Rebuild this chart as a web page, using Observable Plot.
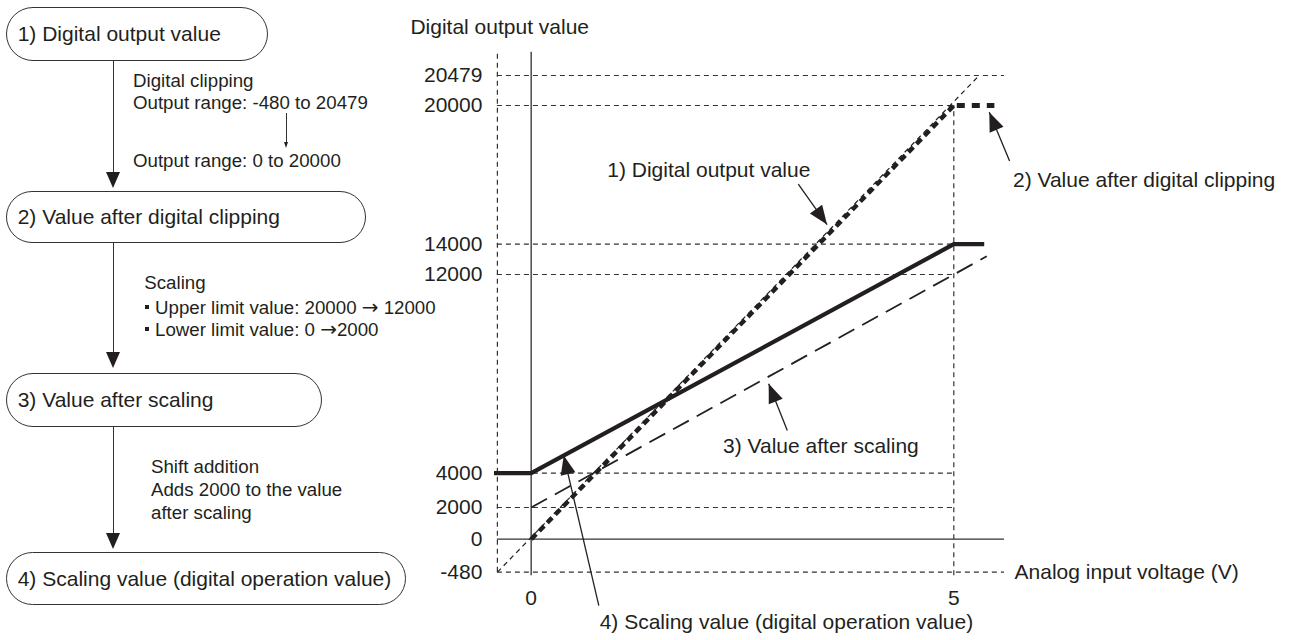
<!DOCTYPE html>
<html><head><meta charset="utf-8">
<script src="https://cdn.jsdelivr.net/npm/d3@7"></script>
<script src="https://cdn.jsdelivr.net/npm/@observablehq/plot@0.6"></script>
<style>
body{margin:0;background:#fff;font-family:"Liberation Sans",Arial,sans-serif;color:#231f20}
#wrap{position:relative;width:1292px;height:640px;overflow:hidden;background:#fff}
#chart{position:absolute;left:0;top:0}
.box{position:absolute;left:6px;border:1.3px solid #333;border-radius:28px;box-sizing:border-box;font-size:21px;line-height:1;display:flex;align-items:center;padding-left:10.7px;white-space:nowrap}
.vline{position:absolute;left:112.5px;width:1.5px;background:#333}
.head{position:absolute;left:105.6px;width:0;height:0;border-left:7.7px solid transparent;border-right:7.7px solid transparent;border-top:16.7px solid #231f20}
.note{position:absolute;font-size:18.7px;line-height:1;transform:translateY(-50%);white-space:nowrap}
.bullet{position:absolute;left:145px;width:4px;height:4px;background:#231f20}
.arr{font-family:"DejaVu Sans",sans-serif;font-size:20px;line-height:1}
</style></head>
<body>
<div id="wrap">
  <div id="chart"></div>
  <!-- flowchart -->
  <div class="box" style="top:7.3px;width:262px;height:53.4px">1) Digital output value</div>
  <div class="vline" style="top:60px;height:116px"></div>
  <div class="head" style="top:171.6px"></div>
  <div class="note" style="left:133px;top:81px">Digital clipping</div>
  <div class="note" style="left:133px;top:103.3px">Output range: -480 to 20479</div>
  <div style="position:absolute;left:286.2px;top:113px;width:1px;height:31px;background:#333"></div>
  <div style="position:absolute;left:284.2px;top:142px;width:0;height:0;border-left:2.5px solid transparent;border-right:2.5px solid transparent;border-top:6px solid #231f20"></div>
  <div class="note" style="left:133px;top:161px">Output range: 0 to 20000</div>

  <div class="box" style="top:190.7px;width:360px;height:52.6px">2) Value after digital clipping</div>
  <div class="vline" style="top:243px;height:112px"></div>
  <div class="head" style="top:351.6px"></div>
  <div class="note" style="left:144.3px;top:283.3px">Scaling</div>
  <div class="bullet" style="top:305px"></div>
  <div class="note" style="left:155px;top:306.7px">Upper limit value: 20000 <span class="arr">→</span> 12000</div>
  <div class="bullet" style="top:327px"></div>
  <div class="note" style="left:155px;top:329.3px">Lower limit value: 0 <span class="arr">→</span>2000</div>

  <div class="box" style="top:372.7px;width:316px;height:54px">3) Value after scaling</div>
  <div class="vline" style="top:426px;height:110px"></div>
  <div class="head" style="top:533.3px"></div>
  <div class="note" style="left:151px;top:466.7px">Shift addition</div>
  <div class="note" style="left:151px;top:490px">Adds 2000 to the value</div>
  <div class="note" style="left:151px;top:512.7px">after scaling</div>

  <div class="box" style="top:551.7px;width:400px;height:53.3px">4) Scaling value (digital operation value)</div>
</div>
<script>
// ---------------- data ----------------
const yTicks = [20479, 20000, 14000, 12000, 4000, 2000, 0, -480];   // digital output value ticks
const xTicks = [0, 5];                                              // analog input voltage ticks (V)
const gridShort = [20000, 14000, 12000, 4000, 2000];                // dashed guides ending at 5 V
const gridLong = [20479, -480];                                     // dashed guides to the right edge
const xLeft = -0.4, xRight = 5.6, yTop = 20850, yBottom = -530;     // diagram extent

// 1) Digital output value (bold) and its thin extension
const outputV = [0, 5],        outputD = [0, 20000];
const outputExtV = [-0.4, 5.3], outputExtD = [-480, 20479];
// 2) Value after digital clipping
const clipV = [5, 5.48],       clipD = [20000, 20000];
// 3) Value after scaling
const scaledV = [0, 5.39],     scaledD = [2000, 13200];
// 4) Scaling value (digital operation value)
const scalingV = [-0.44, 0, 5, 5.36], scalingD = [4000, 4000, 14000, 14000];

const labelTexts = ["1) Digital output value", "2) Value after digital clipping",
                    "3) Value after scaling", "4) Scaling value (digital operation value)"];

// ---------------- layout (not data) ----------------
const X_DOMAIN = [0, 5], X_RANGE = [530.7, 953.3];
const Y_DOMAIN = [-480, 0, 2000, 4000, 12000, 14000, 20000, 20479];   // schematic (piecewise) axis
const Y_RANGE  = [571.7, 538.7, 507, 472.7, 274, 243.7, 105, 75];
const labelPos = [
  {x: 0.9,  y: 17200, anchor: "start"},
  {x: 5.70, y: 16750, anchor: "start"},
  {x: 2.27, y: 5100,  anchor: "start"},
  {x: 3.02, y: -1210, anchor: "middle"}
];
const pointers = [
  {x1: 3.16, y1: 16600, x2: 3.50, y2: 14850},
  {x1: 5.66, y1: 17600, x2: 5.42, y2: 19710},
  {x1: 3.03, y1: 5720,  x2: 2.81, y2: 7600},
  {x1: 0.80, y1: -965,  x2: 0.385, y2: 4710}
];

const ink = "#231f20", gridInk = "#333";
const pts = (xs, ys) => d3.zip(xs, ys);
const xs = d3.scaleLinear(X_DOMAIN, X_RANGE);
const ys = d3.scaleLinear(Y_DOMAIN, Y_RANGE);

function headSymbol(theta, L = 19, W = 7.5) {
  const c = Math.cos(theta), s = Math.sin(theta);
  const rot = ([px, py]) => [px * c - py * s, px * s + py * c];
  const p = [[0, 0], [-W, L], [W, L]].map(rot);
  return {draw(ctx) { ctx.moveTo(...p[0]); ctx.lineTo(...p[1]); ctx.lineTo(...p[2]); ctx.closePath(); }};
}
const headMarks = pointers.map(p => {
  const dx = xs(p.x2) - xs(p.x1), dy = ys(p.y2) - ys(p.y1);
  const theta = Math.atan2(dx, -dy);
  return Plot.dot([p], {x: "x2", y: "y2", r: 5, symbol: headSymbol(theta), fill: ink, stroke: "none"});
});

const dashed = {stroke: gridInk, strokeWidth: 1.2, strokeDasharray: "5,4"};

const chart = Plot.plot({
  width: 1292, height: 640,
  marginTop: 0, marginRight: 0, marginBottom: 0, marginLeft: 0,
  style: {fontFamily: '"Liberation Sans", Arial, sans-serif', fontSize: "21px", color: ink, background: "transparent"},
  x: {domain: X_DOMAIN, range: X_RANGE, axis: null},
  y: {type: "linear", domain: Y_DOMAIN, range: Y_RANGE, axis: null},
  marks: [
    Plot.ruleY(gridShort, {y: d => d, x1: xLeft, x2: 5, ...dashed}),
    Plot.ruleY(gridLong, {y: d => d, x1: xLeft, x2: xRight, ...dashed}),
    Plot.ruleX([xLeft], {x: d => d, y1: -480, y2: yTop, ...dashed}),
    Plot.ruleX([5], {x: d => d, y1: yBottom, y2: 20000, ...dashed}),
    Plot.ruleY([0], {y: d => d, x1: xLeft, x2: xRight, stroke: gridInk, strokeWidth: 1.2}),
    Plot.ruleX([0], {x: d => d, y1: yBottom, y2: yTop, stroke: "#555", strokeWidth: 1.6}),
    // 3) value after scaling
    Plot.line(pts(scaledV, scaledD), {x: d => d[0], y: d => d[1], stroke: ink, strokeWidth: 1.8, strokeDasharray: "18,9", strokeLinecap: "butt"}),
    // 1) digital output value
    Plot.line(pts(outputExtV, outputExtD), {x: d => d[0], y: d => d[1], stroke: ink, strokeWidth: 1.2, strokeDasharray: "5,4", strokeLinecap: "butt"}),
    Plot.line(pts(outputV, outputD), {x: d => d[0], y: d => d[1], stroke: ink, strokeWidth: 4.5, strokeDasharray: "7,4.5", strokeLinecap: "butt"}),
    // 2) value after digital clipping
    Plot.line(pts(clipV, clipD), {x: d => d[0], y: d => d[1], stroke: ink, strokeWidth: 5, strokeDasharray: "8,7", strokeDashoffset: -3, strokeLinecap: "butt"}),
    // 4) scaling value
    Plot.line(pts(scalingV, scalingD), {x: d => d[0], y: d => d[1], stroke: ink, strokeWidth: 4.2, strokeLinecap: "butt", strokeLinejoin: "miter"}),
    // axis labels
    Plot.text(yTicks, {x: xLeft, y: d => d, text: d => String(d), textAnchor: "end", dx: -15, fontSize: 21, fill: ink}),
    Plot.text(xTicks, {x: d => d, y: -480, text: d => String(d), dy: 26, fontSize: 21, fill: ink}),
    Plot.text(["Digital output value"], {x: xLeft, y: yTop, text: d => d, textAnchor: "start", dx: -87, dy: -25, fontSize: 21, fill: ink}),
    Plot.text(["Analog input voltage (V)"], {x: xRight, y: -480, text: d => d, textAnchor: "start", dx: 10, fontSize: 21, fill: ink}),
    // annotations
    Plot.link(pointers, {x1: "x1", y1: "y1", x2: "x2", y2: "y2", stroke: ink, strokeWidth: 1.3}),
    ...headMarks,
    ...labelTexts.map((t, i) => Plot.text([t], {x: labelPos[i].x, y: labelPos[i].y, text: d => d, textAnchor: labelPos[i].anchor, fontSize: 21, fill: ink}))
  ]
});
document.getElementById("chart").appendChild(chart);
</script>
</body></html>
